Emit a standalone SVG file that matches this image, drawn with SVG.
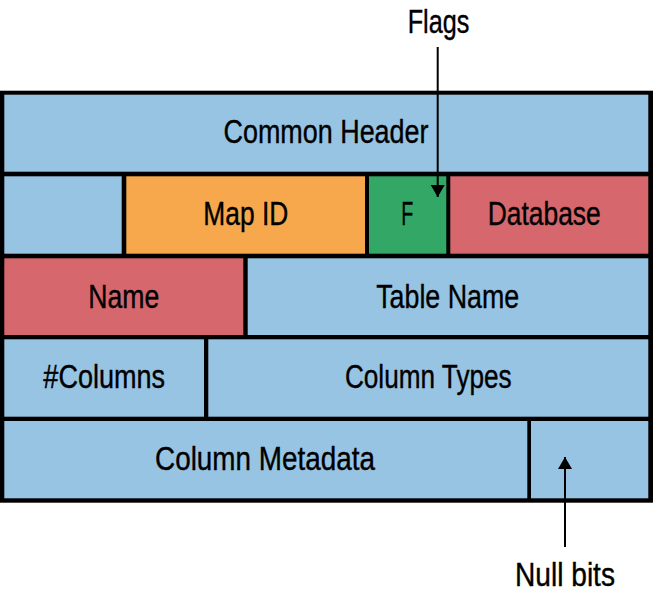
<svg xmlns="http://www.w3.org/2000/svg" width="653" height="597" viewBox="0 0 653 597">
<style>
.t{font-family:"Liberation Sans",Arial,sans-serif;font-size:34px;fill:#000;stroke:#000;stroke-width:0.4px;text-anchor:middle}
.blue{fill:#98C4E3}
.orange{fill:#F7A84C}
.green{fill:#33A766}
.red{fill:#D6676C}
.conn{stroke:#000;stroke-width:2;fill:none}
</style>
<defs>
<marker id="ah" viewBox="0 0 12 14" refX="12" refY="7" markerWidth="12" markerHeight="14" markerUnits="userSpaceOnUse" orient="auto">
<path d="M0,0 L12,7 L0,14 Z" fill="#000"/>
</marker>
</defs>
<rect id="frame" x="0" y="90.7" width="653" height="412" fill="#000"/>
<g id="common-header"><rect class="blue" x="4.3" y="94.7" width="644" height="77"/><text class="t" x="326" y="143" textLength="205" lengthAdjust="spacingAndGlyphs">Common Header</text></g>
<g id="blank-r2"><rect class="blue" x="4.3" y="176.3" width="117.4" height="77.4"/></g>
<g id="map-id"><rect class="orange" x="126.3" y="176.3" width="238.7" height="77.4"/><text class="t" x="245.8" y="225" textLength="85" lengthAdjust="spacingAndGlyphs">Map ID</text></g>
<g id="flags-f"><rect class="green" x="369" y="176.3" width="77.3" height="77.4"/><text class="t" x="407.2" y="225" textLength="12" lengthAdjust="spacingAndGlyphs">F</text></g>
<g id="database"><rect class="red" x="450.3" y="176.3" width="198" height="77.4"/><text class="t" x="544.2" y="225" textLength="113" lengthAdjust="spacingAndGlyphs">Database</text></g>
<g id="name"><rect class="red" x="4.3" y="258.3" width="239" height="76.7"/><text class="t" x="123.8" y="307.5" textLength="71" lengthAdjust="spacingAndGlyphs">Name</text></g>
<g id="table-name"><rect class="blue" x="247.7" y="258.3" width="400.6" height="76.7"/><text class="t" x="447.7" y="307.5" textLength="143" lengthAdjust="spacingAndGlyphs">Table Name</text></g>
<g id="columns"><rect class="blue" x="4.3" y="339.3" width="199.7" height="77.4"/><text class="t" x="104.2" y="388" textLength="121.7" lengthAdjust="spacingAndGlyphs">#Columns</text></g>
<g id="column-types"><rect class="blue" x="208.3" y="339.3" width="440" height="77.4"/><text class="t" x="428.3" y="388" textLength="166.7" lengthAdjust="spacingAndGlyphs">Column Types</text></g>
<g id="column-metadata"><rect class="blue" x="4.3" y="421" width="523" height="77.3"/><text class="t" x="265" y="469.5" textLength="220" lengthAdjust="spacingAndGlyphs">Column Metadata</text></g>
<g id="null-bits-cell"><rect class="blue" x="531" y="421" width="117.3" height="77.3"/></g>
<g id="flags-label"><text class="t" x="438.5" y="33.3" textLength="61.6" lengthAdjust="spacingAndGlyphs">Flags</text></g>
<g id="null-bits-label"><text class="t" x="565" y="586" textLength="100" lengthAdjust="spacingAndGlyphs">Null bits</text></g>
<g id="connectors">
<line class="conn" x1="437.7" y1="47" x2="437.7" y2="197" marker-end="url(#ah)"/>
<line class="conn" x1="565" y1="547" x2="565" y2="457" marker-end="url(#ah)"/>
</g>
</svg>
